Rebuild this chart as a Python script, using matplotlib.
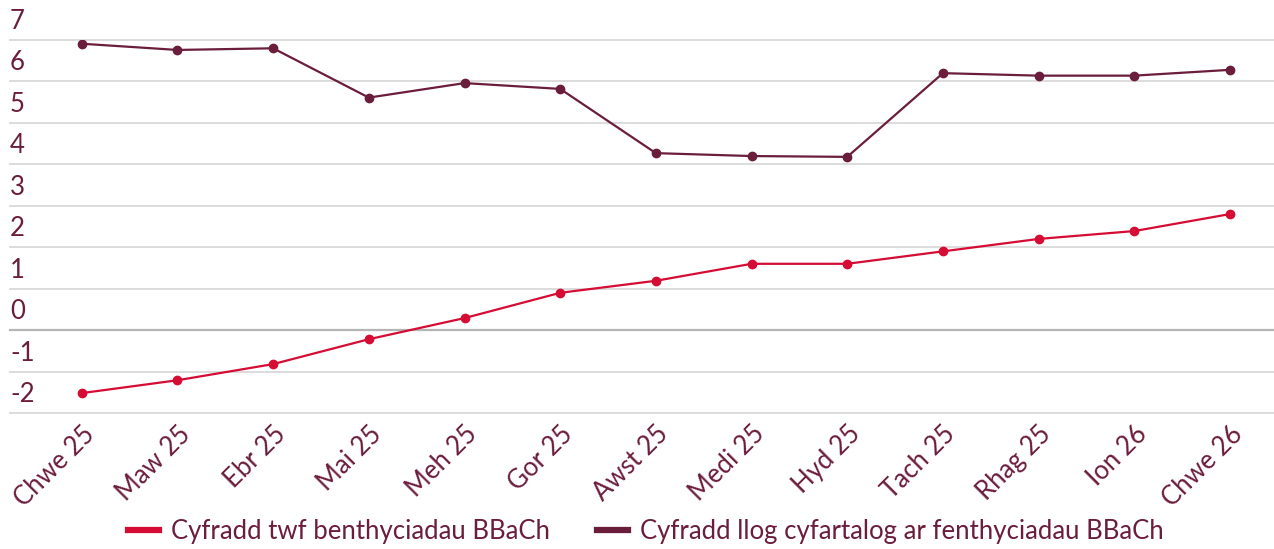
import matplotlib.pyplot as plt
import matplotlib.transforms as mtransforms

months = ['Chwe 25', 'Maw 25', 'Ebr 25', 'Mai 25', 'Meh 25', 'Gor 25', 'Awst 25',
          'Medi 25', 'Hyd 25', 'Tach 25', 'Rhag 25', 'Ion 26', 'Chwe 26']
growth = [-1.52, -1.21, -0.82, -0.22, 0.29, 0.90, 1.19, 1.60, 1.60, 1.90, 2.20, 2.39, 2.80]
rate = [6.91, 6.76, 6.80, 5.61, 5.96, 5.82, 4.27, 4.20, 4.18, 6.20, 6.14, 6.14, 6.28]
yticks = [-2, -1, 0, 1, 2, 3, 4, 5, 6, 7]
labels = ['Cyfradd twf benthyciadau BBaCh', 'Cyfradd llog cyfartalog ar fenthyciadau BBaCh']

RED = '#D50C34'
MAROON = '#6B1D3C'
TEXT = '#6B1D3C'

plt.rcParams['font.family'] = ['Lato', 'DejaVu Sans']

fig = plt.figure(figsize=(12.74, 5.49), dpi=100)
ax = fig.add_axes([10 / 1274, (549 - 413) / 549, 1 - 10 / 1274, 373 / 549])

x = list(range(len(months)))
ax.plot(x, growth, color=RED, lw=1.6, marker='o', ms=6, label=labels[0], zorder=3)
ax.plot(x, rate, color=MAROON, lw=1.6, marker='o', ms=6, label=labels[1], zorder=3)

ax.set_ylim(-2, 7)
ax.set_xlim(-0.75, 12.46)

# horizontal gridlines, zero line darker
for v in yticks:
    ax.axhline(v, color='#B5B5B5' if v == 0 else '#D9D9D9', lw=1.6 if v == 0 else 1.3,
               zorder=1, clip_on=False)

# y labels sit just above each gridline
trans = mtransforms.blended_transform_factory(ax.transAxes, ax.transData)
offset = mtransforms.ScaledTranslation(0, 6 / 100, fig.dpi_scale_trans)
for v in yticks:
    ax.text(0.0, v, str(v), transform=trans + offset, ha='left', va='bottom',
            fontsize=18.5, color=TEXT, clip_on=False)
ax.set_yticks([])

ax.set_xticks(x)
ax.set_xticklabels(months, rotation=45, ha='right', rotation_mode='anchor',
                   fontsize=18.5, color=TEXT)
ax.tick_params(axis='x', length=0, pad=6)

for s in ax.spines.values():
    s.set_visible(False)

fig.legend(loc='lower center', bbox_to_anchor=(0.507, -0.033), ncol=2, frameon=False,
           fontsize=18.5, labelcolor=TEXT, handlelength=1.2, handletextpad=0.5,
           columnspacing=1.8,
           handles=[plt.Line2D([], [], color=RED, lw=4.5),
                    plt.Line2D([], [], color=MAROON, lw=4.5)],
           labels=labels)

fig.savefig('out.png', dpi=100)
